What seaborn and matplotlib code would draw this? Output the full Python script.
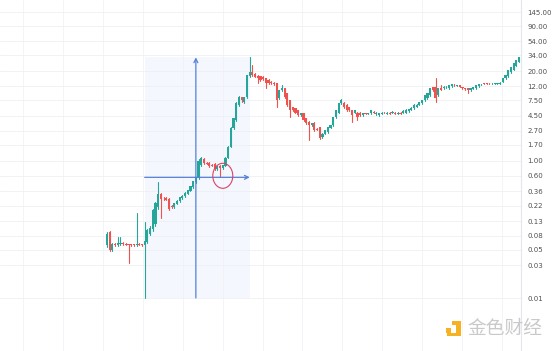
import numpy as np
import pandas as pd
import matplotlib
matplotlib.use("Agg")
import matplotlib.pyplot as plt
import seaborn as sns
from matplotlib.patches import Rectangle, Ellipse
from matplotlib.transforms import ScaledTranslation
from matplotlib.ticker import NullLocator

# ---------------- data ----------------
opens = [0.059, 0.090, 0.050, 0.062, 0.059, 0.061, 0.064, 0.062, 0.061, 0.061,
         0.061, 0.059, 0.062, 0.061, 0.060, 0.065, 0.085, 0.100, 0.120, 0.210,
         0.330, 0.280, 0.285, 0.280, 0.220, 0.210, 0.235, 0.255, 0.285, 0.300,
         0.330, 0.360, 0.410, 0.480, 0.550, 0.860, 1.050, 0.930, 0.920, 0.860,
         0.900, 0.760, 0.840, 0.780, 0.840, 1.100, 1.600, 3.000, 3.900, 6.400,
         8.300, 7.000, 8.300, 16.80, 19.50, 18.00, 17.00, 16.80,
         16.5, 15.7, 14.7, 14.0, 13.5, 13.3, 8.0, 10.5, 11.2, 9.5,
         7.5, 5.95, 5.75, 5.4, 4.55, 4.86, 4.1, 3.6, 3.26, 3.5,
         2.9, 3.05, 2.2, 2.45, 2.6, 3.0, 3.26, 4.26, 5.0, 6.8,
         6.8, 6.4, 5.95, 5.4, 5.0, 5.0, 5.0, 4.55, 4.9, 4.8,
         4.86, 5.1, 4.7, 4.6, 4.8, 5.0, 4.8, 5.0, 4.9, 5.0,
         4.8, 5.0, 4.9, 5.0, 5.2, 5.5, 5.8, 6.1, 6.5, 6.8,
         7.5, 8.0, 8.9, 11.6, 11.6, 8.9, 11.2, 11.2, 11.6, 11.2,
         12.0, 12.6, 12.1, 12.4, 11.6, 11.4, 11.2, 10.5, 11.0, 11.2,
         12.0, 12.8, 13.3, 13.3, 13.2, 13.0, 12.9, 13.0, 13.1, 13.9,
         15.7, 16.8, 19.2, 21.0, 24.0, 27.0]
highs = [0.090, 0.093, 0.063, 0.064, 0.077, 0.077, 0.066, 0.063, 0.062, 0.062,
         0.062, 0.170, 0.063, 0.062, 0.127, 0.100, 0.110, 0.200, 0.250, 0.480,
         0.340, 0.290, 0.290, 0.285, 0.225, 0.245, 0.265, 0.295, 0.315, 0.345,
         0.375, 0.425, 0.510, 0.580, 1.050, 1.120, 1.100, 0.950, 0.940, 0.880,
         0.920, 0.830, 0.860, 0.870, 1.120, 1.650, 3.100, 4.200, 7.000, 8.600,
         8.500, 8.500, 17.80, 31.70, 24.50, 18.50, 17.50, 17.20,
         17.0, 16.0, 15.2, 14.3, 13.8, 13.5, 10.8, 12.4, 11.5, 9.7,
         7.7, 6.1, 5.9, 5.5, 4.9, 4.95, 4.2, 3.7, 3.55, 3.6,
         2.95, 3.1, 2.5, 2.8, 3.1, 3.3, 4.3, 5.5, 6.9, 7.8,
         7.0, 6.6, 6.1, 5.5, 5.5, 5.1, 5.1, 4.95, 5.0, 5.0,
         5.5, 5.2, 5.1, 5.0, 5.1, 5.1, 5.1, 5.1, 5.2, 5.1,
         5.1, 5.1, 5.4, 5.6, 5.7, 6.0, 6.6, 6.6, 7.1, 7.6,
         9.0, 9.6, 11.4, 11.9, 15.7, 11.4, 12.4, 12.0, 12.1, 12.6,
         13.0, 12.9, 12.6, 12.5, 11.8, 11.5, 11.3, 11.3, 11.7, 12.5,
         13.1, 13.2, 13.5, 13.5, 13.4, 13.3, 13.4, 13.4, 13.8, 15.9,
         17.5, 20.8, 23.0, 26.5, 29.0, 32.5]
lows = [0.055, 0.048, 0.048, 0.058, 0.057, 0.059, 0.060, 0.059, 0.032, 0.058,
        0.058, 0.058, 0.059, 0.058, 0.010, 0.064, 0.082, 0.095, 0.110, 0.200,
        0.145, 0.270, 0.265, 0.190, 0.205, 0.205, 0.230, 0.250, 0.280, 0.295,
        0.325, 0.355, 0.400, 0.470, 0.540, 0.840, 0.900, 0.880, 0.810, 0.820,
        0.720, 0.740, 0.570, 0.760, 0.830, 1.080, 1.550, 2.900, 3.800, 6.200,
        7.200, 6.900, 8.100, 16.50, 17.20, 16.20, 13.30, 14.30,
        15.0, 11.2, 13.0, 13.0, 12.5, 5.95, 7.8, 10.3, 8.0, 6.2,
        4.26, 5.3, 4.9, 4.45, 4.5, 3.8, 3.4, 1.97, 3.2, 2.7,
        2.75, 2.05, 2.15, 2.4, 2.55, 2.95, 3.2, 4.2, 4.9, 6.6,
        5.8, 5.3, 5.3, 3.6, 4.9, 3.85, 4.45, 4.5, 4.7, 4.7,
        4.8, 4.9, 4.6, 4.5, 4.75, 4.85, 4.75, 4.7, 4.85, 4.7,
        4.75, 4.75, 4.85, 4.95, 5.1, 5.4, 5.7, 6.0, 6.4, 6.7,
        7.4, 7.9, 8.8, 10.3, 7.0, 8.7, 10.6, 11.0, 11.4, 11.1,
        11.9, 12.2, 12.0, 11.6, 11.0, 10.8, 9.5, 10.4, 10.9, 11.1,
        11.9, 12.6, 12.9, 12.8, 12.8, 12.8, 12.8, 12.9, 13.0, 13.8,
        15.5, 16.5, 19.0, 20.8, 23.8, 26.8]
closes = [0.085, 0.050, 0.061, 0.060, 0.063, 0.064, 0.061, 0.060, 0.059, 0.060,
          0.059, 0.062, 0.060, 0.059, 0.068, 0.097, 0.104, 0.190, 0.240, 0.330,
          0.280, 0.275, 0.270, 0.200, 0.210, 0.240, 0.260, 0.290, 0.310, 0.340,
          0.370, 0.420, 0.500, 0.570, 0.970, 1.080, 0.920, 0.900, 0.830, 0.840,
          0.750, 0.820, 0.770, 0.860, 1.100, 1.600, 3.000, 4.100, 6.800, 8.300,
          7.500, 8.300, 17.30, 19.50, 17.50, 16.50, 16.00, 14.70,
          15.5, 13.3, 13.3, 13.3, 12.8, 7.5, 10.5, 11.2, 8.3, 6.4,
          5.4, 5.4, 5.0, 4.55, 4.86, 3.85, 3.5, 3.26, 3.5, 2.76,
          2.8, 2.1, 2.45, 2.76, 3.05, 3.26, 4.26, 5.4, 6.8, 7.5,
          5.95, 5.4, 5.4, 4.55, 5.4, 4.26, 4.55, 4.86, 4.75, 4.95,
          5.4, 5.0, 5.0, 4.9, 5.0, 4.9, 5.0, 4.8, 5.1, 4.8,
          5.0, 4.8, 5.3, 5.5, 5.6, 5.9, 6.5, 6.5, 7.0, 7.5,
          8.9, 9.5, 11.2, 10.5, 8.0, 11.2, 10.8, 11.8, 11.9, 12.4,
          12.8, 12.4, 12.4, 11.8, 11.2, 11.0, 10.5, 11.2, 11.6, 12.4,
          13.0, 13.1, 13.0, 12.9, 12.9, 13.1, 13.3, 13.3, 13.6, 15.7,
          17.3, 20.5, 22.6, 26.0, 28.6, 31.7]

price_ticks = [145, 90, 54, 34, 20, 12, 7.5, 4.5, 2.7, 1.7, 1.0, 0.6,
               0.36, 0.22, 0.13, 0.08, 0.05, 0.03, 0.01]
tick_labels = ["145.00", "90.00", "54.00", "34.00", "20.00", "12.00", "7.50",
               "4.50", "2.70", "1.70", "1.00", "0.60", "0.36", "0.22", "0.13",
               "0.08", "0.05", "0.03", "0.01"]

box_start, box_end = 14, 53       # candles bounding the highlighted range
arrow_idx = 33                    # candle of the vertical arrow
level_price = 0.57                # horizontal arrow level
circle_idx, circle_price = 43, 0.60
watermark = "金色财经"

# ---------------- style ----------------
sns.set_theme(style="white")
plt.rcParams['font.family'] = ['DejaVu Sans', 'Noto Sans CJK SC']

W, H, DPI = 554, 351, 100
fig = plt.figure(figsize=(W / DPI, H / DPI), dpi=DPI, facecolor="white")
plot_w = 521
ax = fig.add_axes([0, 0, plot_w / W, 1])
ax.set_facecolor("white")
ax.set_yscale("log")

n = len(closes)
df = pd.DataFrame(dict(i=np.arange(n), o=opens, h=highs, l=lows, c=closes))
df["dir"] = np.where(df.c >= df.o, "up", "down")
palette = {"up": "#26a69a", "down": "#ef5350"}

# highlighted range
ax.add_patch(Rectangle((box_start, lows[box_start]), box_end - box_start,
                       highs[box_end] - lows[box_start],
                       facecolor="#f4f7fd", edgecolor="none", zorder=0))

# wicks via seaborn
wick = pd.concat([
    df[["i", "h", "dir"]].rename(columns={"h": "p"}),
    df[["i", "l", "dir"]].rename(columns={"l": "p"}),
])
sns.lineplot(data=wick, x="i", y="p", hue="dir", units="i", estimator=None,
             palette=palette, lw=0.8, legend=False, ax=ax, sort=False, zorder=2)

# bodies
bottoms = np.minimum(df.o, df.c)
heights = np.abs(df.c - df.o)
ax.bar(df.i, heights, bottom=bottoms, width=0.8,
       color=df.dir.map(palette), linewidth=0, zorder=3)

# arrows
arrow_col = "#5580d8"
ax.annotate("", xy=(arrow_idx, highs[box_end]), xytext=(arrow_idx, lows[box_start]),
            arrowprops=dict(arrowstyle="->", color=arrow_col, lw=0.9,
                            shrinkA=0, shrinkB=0, mutation_scale=7), zorder=4)
ax.annotate("", xy=(box_end, level_price), xytext=(box_start, level_price),
            arrowprops=dict(arrowstyle="->", color=arrow_col, lw=0.9,
                            shrinkA=0, shrinkB=0, mutation_scale=7), zorder=4)

# red ellipse
ell = Ellipse((0, 0), 20 / DPI, 25 / DPI,
              transform=fig.dpi_scale_trans + ScaledTranslation(circle_idx, circle_price, ax.transData),
              fill=False, edgecolor="#d94468", lw=0.8, zorder=5)
ax.add_artist(ell)

# axes
s = 412 / (n - 1)
ax.set_xlim(-107 / s, (n - 1) + 2 / s)
ax.set_ylim(0.001694, 216.8)
ax.set_xticks([])
ax.yaxis.tick_right()
ax.set_yticks(price_ticks)
ax.set_yticklabels(tick_labels)
ax.yaxis.set_minor_locator(NullLocator())
ax.tick_params(axis="y", length=0, pad=4.5, labelsize=5, labelcolor="#505050")
ax.set_xlabel("")
ax.set_ylabel("")
ax.grid(axis="y", color="#eef0f3", lw=0.6, zorder=0)
ax.set_axisbelow(True)
vx = [23, 63, 103, 143, 183, 223, 263, 302, 342, 382, 422, 462, 502]
ax.vlines([v / plot_w for v in vx], 0, 1, transform=ax.transAxes,
          color="#f0f2f5", lw=0.6, zorder=0.5)
for side in ["top", "left", "bottom"]:
    ax.spines[side].set_visible(False)
ax.spines["right"].set_color("#e3e6ec")
ax.spines["right"].set_linewidth(0.8)

# watermark logo + text
logo_col = "#f5b324"
def px_rect(x0, y0, x1, y1):
    fig.add_artist(Rectangle((x0 / W, 1 - y1 / H), (x1 - x0) / W, (y1 - y0) / H,
                             transform=fig.transFigure, facecolor=logo_col,
                             edgecolor="none"))
px_rect(446, 328, 451, 333)
px_rect(456, 321, 461, 336)
px_rect(452, 321, 457, 325)
px_rect(447, 333, 461, 336)
fig.text(467 / W, 1 - 328 / H, watermark, fontsize=13.5, color="#c9c9c9",
         family=["Noto Sans CJK SC"], va="center", ha="left")

fig.savefig("out.png", dpi=DPI, facecolor="white")
